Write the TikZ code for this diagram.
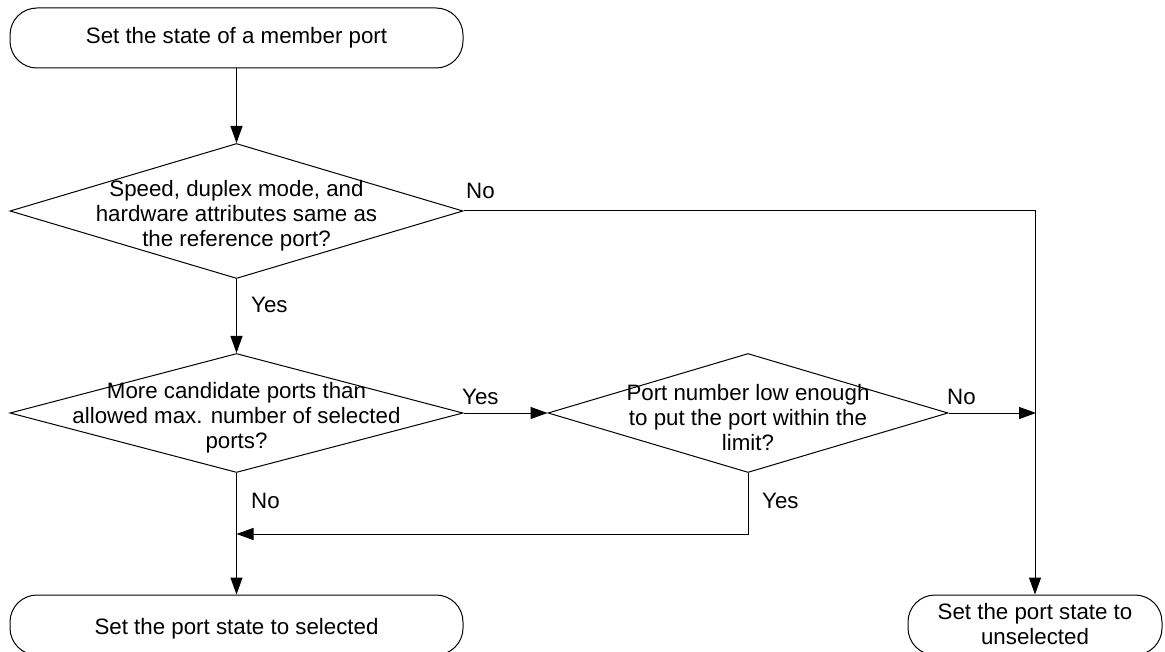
\documentclass[tikz,border=0pt]{standalone}
\usepackage{fontspec}
\setmainfont{Liberation Sans}
\usetikzlibrary{shapes.geometric,arrows.meta}
\begin{document}
\begin{tikzpicture}[x=1pt,y=-1pt,
  every node/.style={font=\fontsize{22.3}{25}\selectfont},
  term/.style={draw,rectangle,rounded corners=27pt,line width=1pt,minimum width=453pt,minimum height=60pt,inner sep=0pt},
  dia/.style={draw,diamond,line width=1pt,inner sep=0pt},
  txt/.style={align=center,inner sep=0pt},
  lbl/.style={inner sep=0pt,anchor=base west},
  conn/.style={line width=1pt,-{Triangle[length=17pt,width=12pt]}},
  plain/.style={line width=1pt}]
\useasboundingbox (0,0) rectangle (1165,652);
\clip (0,0) rectangle (1165,652);
% terminals
\node[term] (t1) at (236.5,38) {};
\node[txt] (t1t) at (t1) {Set the state of a member port};
\node[term] (t2) at (236.5,625) {};
\node[txt] (t2t) at (236.5,629) {Set the port state to selected};
\node[term,minimum width=254pt] (t3) at (1035,625) {};
\node[txt] (t3t) at (1035,624) {Set the port state to\\unselected};
% decisions
\node[dia,minimum width=453pt,minimum height=135pt] (d1) at (236.5,211) {};
\node[txt] (d1t) at (236.5,216) {Speed, duplex mode, and\\hardware attributes same as\\the reference port?};
\node[dia,minimum width=453pt,minimum height=119pt] (d2) at (236.5,413) {};
\node[txt] (d2t) at (236.5,418) {More candidate ports than\\allowed max. number of selected\\ports?};
\node[dia,minimum width=400pt,minimum height=119pt] (d3) at (748,413) {};
\node[txt] (d3t) at (748,418) {Port number low enough\\to put the port within the\\limit?};
% connectors
\coordinate (j) at (236.5,534);
\coordinate (r) at (1036,413);
\draw[conn] (t1.south) -- (d1.north);
\draw[conn] (d1.south) -- (d2.north);
\draw[conn] (d2.east) -- (d3.west);
\draw[conn] (d2.south) -- (t2.north);
\draw[conn] (d3.south) |- (j);
\draw[conn] (d1.east) -| (t3.north);
\draw[conn] (d3.east) -- (r);
% labels
\node[lbl] (l1) at (466,199) {No};
\node[lbl] (l2) at (251,313) {Yes};
\node[lbl] (l3) at (462,404) {Yes};
\node[lbl] (l4) at (947,404) {No};
\node[lbl] (l5) at (762,508) {Yes};
\node[lbl] (l6) at (251,508) {No};
\end{tikzpicture}
\end{document}
